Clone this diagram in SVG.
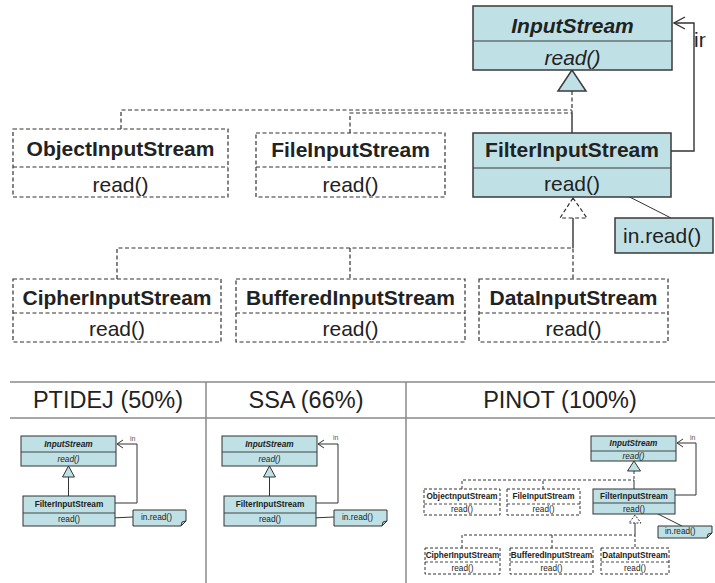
<svg xmlns="http://www.w3.org/2000/svg" width="715" height="583" viewBox="0 0 715 583">
<style>
.cls{fill:#bfe1e5;stroke:#3a3a3a;stroke-width:1.5}
.dbox{fill:#fff;stroke:#333;stroke-width:1.2;stroke-dasharray:4 2.5}
.dv{stroke:#3a3a3a;stroke-width:1.2;fill:none}
.ddv{stroke:#333;stroke-width:1.2;stroke-dasharray:4 2.5;fill:none}
.ln{stroke:#333;stroke-width:1.4;fill:none}
.dl{stroke:#333;stroke-width:1.2;stroke-dasharray:4 2.5;fill:none}
.t{font-family:"Liberation Sans",Arial,sans-serif;fill:#222;text-anchor:middle}
.st{font-family:"Liberation Sans",Arial,sans-serif;fill:#222}
.b{font-weight:bold}
.i{font-style:italic}
.L{font-size:21px}
.S{font-size:8.3px}
.P{font-size:8.2px}
.H{font-size:23.5px}
.grid{stroke:#8a8a8a;stroke-width:1.5;fill:none}
.scls{fill:#bfe1e5;stroke:#333;stroke-width:1}
.sdbox{fill:#fff;stroke:#333;stroke-width:1;stroke-dasharray:3 2}
.sdv{stroke:#333;stroke-width:0.9;fill:none}
.sddv{stroke:#333;stroke-width:0.9;stroke-dasharray:3 2;fill:none}
.sln{stroke:#333;stroke-width:1;fill:none}
.sdl{stroke:#333;stroke-width:1;stroke-dasharray:3 2;fill:none}
.lbl{font-family:"Liberation Sans",Arial,sans-serif;fill:#555;font-size:7px}
</style>
<defs>
<clipPath id="clipIn"><rect x="680" y="20" width="25.5" height="40"/></clipPath>
</defs>

<!-- Main diagram connectors -->
<g id="connectors">
  <path class="dl" d="M121,129 V110 H572"/>
  <path class="dl" d="M350,133 V113 H572"/>
  <path class="dl" d="M572,91 V113"/>
  <path class="ln" d="M572,113 V133"/>
  <polygon class="cls" points="572,70 558,91 586,91"/>
  <path class="ln" d="M573,218 V248"/>
  <path class="dl" d="M117,279 V248 H573 V279"/>
  <path class="dl" d="M350,248 V279"/>
  <polygon points="573,198 560,218 587,218" fill="#fff" stroke="#333" stroke-width="1.2" stroke-dasharray="4 2.5"/>
  <polyline class="ln" points="671,151 694,151 694,23 674,23"/>
  <polyline class="ln" points="685,17 674,23 685,29"/>
  <path stroke="#333" stroke-width="1" d="M610,187 L671,218"/>
  <text class="st L" x="694" y="47" clip-path="url(#clipIn)">in</text>
</g>

<g id="InputStream">
  <rect class="cls" x="473" y="6" width="199" height="64"/>
  <line class="dv" x1="473" y1="41" x2="672" y2="41"/>
  <text class="t L b i" x="572.5" y="33">InputStream</text>
  <text class="t L i" x="572.5" y="65">read()</text>
</g>
<g id="FilterInputStream">
  <rect class="cls" x="473" y="133" width="198" height="64"/>
  <line class="dv" x1="473" y1="168" x2="671" y2="168"/>
  <text class="t L b" x="572" y="157">FilterInputStream</text>
  <text class="t L" x="572" y="191">read()</text>
</g>
<g id="ObjectInputStream">
  <rect class="dbox" x="13" y="129" width="215" height="68"/>
  <line class="ddv" x1="13" y1="167" x2="228" y2="167"/>
  <text class="t L b" x="120.5" y="156">ObjectInputStream</text>
  <text class="t L" x="120.5" y="192">read()</text>
</g>
<g id="FileInputStream">
  <rect class="dbox" x="256" y="133" width="189" height="64"/>
  <line class="ddv" x1="256" y1="167" x2="445" y2="167"/>
  <text class="t L b" x="350.5" y="157">FileInputStream</text>
  <text class="t L" x="350.5" y="192">read()</text>
</g>
<g id="inread">
  <rect class="cls" x="615" y="218" width="98" height="35"/>
  <text class="st L" x="623" y="243">in.read()</text>
</g>
<g id="CipherInputStream">
  <rect class="dbox" x="13" y="279" width="208" height="63"/>
  <line class="ddv" x1="13" y1="313" x2="221" y2="313"/>
  <text class="t L b" x="117" y="305">CipherInputStream</text>
  <text class="t L" x="117" y="336">read()</text>
</g>
<g id="BufferedInputStream">
  <rect class="dbox" x="236" y="279" width="229" height="63"/>
  <line class="ddv" x1="236" y1="313" x2="465" y2="313"/>
  <text class="t L b" x="350.5" y="305">BufferedInputStream</text>
  <text class="t L" x="350.5" y="336">read()</text>
</g>
<g id="DataInputStream">
  <rect class="dbox" x="479" y="279" width="189" height="63"/>
  <line class="ddv" x1="479" y1="313" x2="668" y2="313"/>
  <text class="t L b" x="573.5" y="305">DataInputStream</text>
  <text class="t L" x="573.5" y="336">read()</text>
</g>

<!-- Table -->
<g id="table">
  <path class="grid" d="M10,382 H715 M10,418 H715 M206,382 V583 M406,382 V583"/>
  <text class="t H" x="108" y="408">PTIDEJ (50%)</text>
  <text class="t H" x="306" y="408">SSA (66%)</text>
  <text class="t H" x="560" y="408">PINOT (100%)</text>
</g>

<!-- PTIDEJ thumbnail -->
<g id="ptidej">
  <g id="ptidej-connectors">
    <polygon class="scls" points="68.5,466 62.5,477 74.5,477"/>
    <path class="sln" d="M68.5,477 V496"/>
    <polyline class="sln" points="115,503 137,503 137,444 117,444"/>
    <polyline class="sln" points="123,440 117,444 123,448"/>
    <path class="sln" d="M89,519 L133,517"/>
    <text class="lbl" x="130" y="441">in</text>
  </g>
  <g id="ptidej-InputStream">
    <rect class="scls" x="21" y="436" width="95" height="30"/>
    <line class="sdv" x1="21" y1="452" x2="116" y2="452"/>
    <text class="t S b i" x="68.5" y="447">InputStream</text>
    <text class="t S i" x="68.5" y="462">read()</text>
  </g>
  <g id="ptidej-Filter">
    <rect class="scls" x="23" y="496" width="92" height="30"/>
    <line class="sdv" x1="23" y1="513" x2="115" y2="513"/>
    <text class="t S b" x="69" y="507">FilterInputStream</text>
    <text class="t S" x="69" y="522">read()</text>
  </g>
  <g id="ptidej-note">
    <polygon class="scls" points="133,510 186,510 186,521 181,526 133,526"/>
    <polyline class="sln" points="181,526 182,522 186,521"/>
    <text class="st S" x="141" y="520">in.read()</text>
  </g>
</g>

<!-- SSA thumbnail -->
<g id="ssa" transform="translate(201,0)">
  <g id="ssa-connectors">
    <polygon class="scls" points="68.5,466 62.5,477 74.5,477"/>
    <path class="sln" d="M68.5,477 V496"/>
    <polyline class="sln" points="115,503 137,503 137,444 117,444"/>
    <polyline class="sln" points="123,440 117,444 123,448"/>
    <path class="sln" d="M89,519 L133,517"/>
    <text class="lbl" x="132" y="440">in</text>
  </g>
  <g id="ssa-InputStream">
    <rect class="scls" x="21" y="436" width="95" height="30"/>
    <line class="sdv" x1="21" y1="452" x2="116" y2="452"/>
    <text class="t S b i" x="68.5" y="447">InputStream</text>
    <text class="t S i" x="68.5" y="462">read()</text>
  </g>
  <g id="ssa-Filter">
    <rect class="scls" x="23" y="496" width="92" height="30"/>
    <line class="sdv" x1="23" y1="513" x2="115" y2="513"/>
    <text class="t S b" x="69" y="507">FilterInputStream</text>
    <text class="t S" x="69" y="522">read()</text>
  </g>
  <g id="ssa-note">
    <polygon class="scls" points="133,510 186,510 186,521 181,526 133,526"/>
    <polyline class="sln" points="181,526 182,522 186,521"/>
    <text class="st S" x="141" y="520">in.read()</text>
  </g>
</g>

<!-- PINOT thumbnail -->
<g id="pinot">
  <g id="pinot-connectors">
    <polygon class="scls" points="634,461 627.5,471 640.5,471"/>
    <path class="sdl" d="M634,471 V480"/>
    <path class="sln" d="M634,480 V489"/>
    <path class="sdl" d="M462,489 V480 H634"/>
    <path class="sdl" d="M543,489 V480"/>
    <polyline class="sln" points="675,495 696,495 696,443 677,443"/>
    <polyline class="sln" points="683,439 677,443 683,447"/>
    <text class="lbl" x="690" y="440">in</text>
    <path class="sln" d="M648,509 L682,526"/>
    <polygon points="635,515 629,523 641,523" fill="#fff" stroke="#333" stroke-width="1" stroke-dasharray="2 1.5"/>
    <path class="sln" d="M635,523 V535"/>
    <path class="sdl" d="M462,548 V535 H635 V548"/>
    <path class="sdl" d="M552,535 V548"/>
  </g>
  <g id="pinot-InputStream">
    <rect class="scls" x="591" y="436" width="85" height="25"/>
    <line class="sdv" x1="591" y1="451" x2="676" y2="451"/>
    <text class="t P b i" x="633.5" y="446">InputStream</text>
    <text class="t P i" x="633.5" y="458.5">read()</text>
  </g>
  <g id="pinot-Filter">
    <rect class="scls" x="593" y="489" width="82" height="25"/>
    <line class="sdv" x1="593" y1="503" x2="675" y2="503"/>
    <text class="t P b" x="634" y="499">FilterInputStream</text>
    <text class="t P" x="634" y="511.5">read()</text>
  </g>
  <g id="pinot-Object">
    <rect class="sdbox" x="424" y="489" width="76" height="26"/>
    <line class="sddv" x1="424" y1="504" x2="500" y2="504"/>
    <text class="t P b" x="462" y="499">ObjectnputStream</text>
    <text class="t P" x="462" y="512">read()</text>
  </g>
  <g id="pinot-File">
    <rect class="sdbox" x="507" y="489" width="73" height="26"/>
    <line class="sddv" x1="507" y1="504" x2="580" y2="504"/>
    <text class="t P b" x="543.5" y="499">FileInputStream</text>
    <text class="t P" x="543.5" y="512">read()</text>
  </g>
  <g id="pinot-note">
    <polygon class="scls" points="658,526 712,526 712,533 707,538 658,538"/>
    <polyline class="sln" points="707,538 708,534 712,533"/>
    <text class="st P" x="665" y="534">in.read()</text>
  </g>
  <g id="pinot-Cipher">
    <rect class="sdbox" x="425" y="548" width="75" height="26"/>
    <line class="sddv" x1="425" y1="562" x2="500" y2="562"/>
    <text class="t P b" x="462.5" y="558">CipherInputStream</text>
    <text class="t P" x="462.5" y="571">read()</text>
  </g>
  <g id="pinot-Buffered">
    <rect class="sdbox" x="510" y="548" width="83" height="26"/>
    <line class="sddv" x1="510" y1="562" x2="593" y2="562"/>
    <text class="t P b" x="551.5" y="558">BufferedInputStream</text>
    <text class="t P" x="551.5" y="571">read()</text>
  </g>
  <g id="pinot-Data">
    <rect class="sdbox" x="601" y="548" width="68" height="26"/>
    <line class="sddv" x1="601" y1="562" x2="669" y2="562"/>
    <text class="t P b" x="635" y="558">DataInputStream</text>
    <text class="t P" x="635" y="571">read()</text>
  </g>
</g>
</svg>
